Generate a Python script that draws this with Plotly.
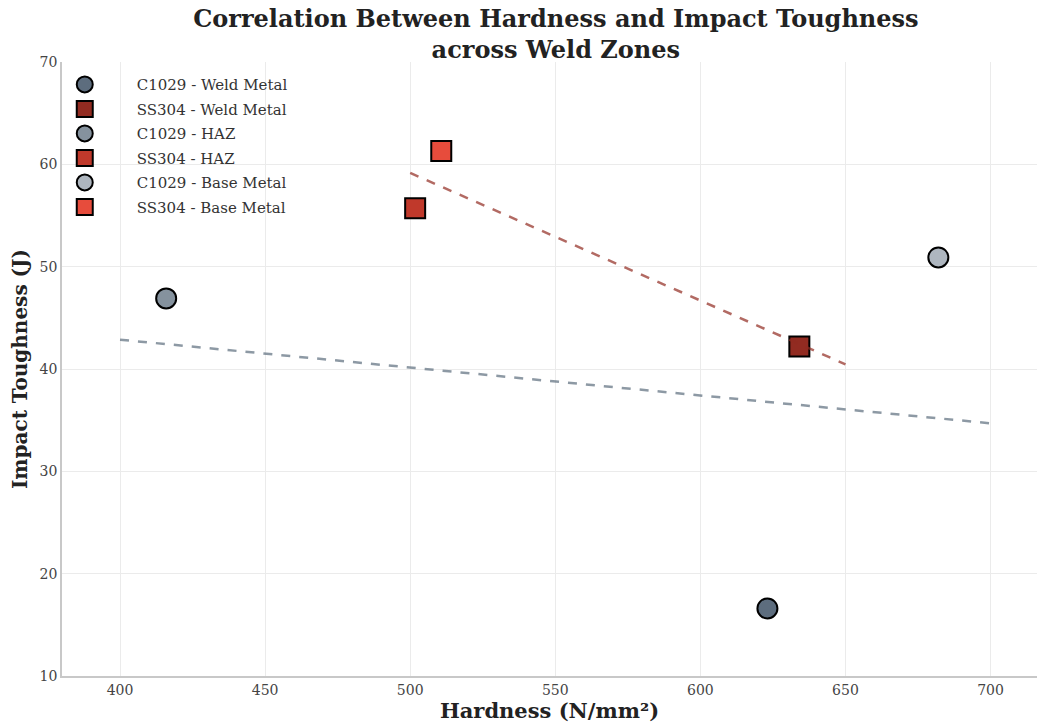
import numpy as np
import plotly.graph_objects as go

# Mean hardness / impact toughness for each material and weld zone
zones = ["Weld Metal", "HAZ", "Base Metal"]
c1029_hardness = [623.1, 415.9, 682.0]
c1029_toughness = [16.6, 46.9, 50.9]
ss304_hardness = [634.1, 501.7, 510.7]
ss304_toughness = [42.2, 55.7, 61.3]

c1029_colors = ["#5d6d7e", "#85929e", "#aeb6bf"]
ss304_colors = ["#922b21", "#c0392b", "#e74c3c"]

# Extent of each fitted trend line
c1029_fit_span = [400, 700]
ss304_fit_span = [500, 650]

SERIF = "DejaVu Serif"

fig = go.Figure()

for i, zone in enumerate(zones):
    for name, hx, ty, colors, symbol in [
        ("C1029", c1029_hardness, c1029_toughness, c1029_colors, "circle"),
        ("SS304", ss304_hardness, ss304_toughness, ss304_colors, "square"),
    ]:
        label = f"{name} - {zone}"
        fig.add_trace(go.Scatter(
            x=[hx[i]], y=[ty[i]], mode="markers",
            name=label, legendgroup=label,
            marker=dict(symbol=symbol, size=20, color=colors[i],
                        line=dict(color="black", width=2)),
        ))

# Linear least-squares trend for each material
for hx, ty, span, color in [
    (c1029_hardness, c1029_toughness, c1029_fit_span, "rgba(93,109,126,0.7)"),
    (ss304_hardness, ss304_toughness, ss304_fit_span, "rgba(146,43,33,0.7)"),
]:
    slope, intercept = np.polyfit(hx, ty, 1)
    xs = np.array(span, dtype=float)
    fig.add_trace(go.Scatter(
        x=xs, y=slope * xs + intercept, mode="lines", showlegend=False,
        hoverinfo="skip",
        line=dict(color=color, width=2.5, dash="dash"),
    ))

fig.update_layout(
    width=1039, height=725,
    margin=dict(l=62, r=2, t=62, b=49),
    paper_bgcolor="white", plot_bgcolor="white",
    title=dict(
        text="<b>Correlation Between Hardness and Impact Toughness<br>across Weld Zones</b>",
        x=0.535, xanchor="center", y=0.9634, yanchor="middle",
        font=dict(family=SERIF, size=24, color="#222222"),
    ),
    font=dict(family=SERIF, color="#444444"),
    legend=dict(
        x=-0.03, y=0.99, xanchor="left", yanchor="top",
        bgcolor="rgba(255,255,255,0)", borderwidth=0,
        font=dict(family=SERIF, size=15, color="#333333"),
        itemsizing="trace", itemwidth=94, tracegroupgap=2,
    ),
    xaxis=dict(
        range=[380, 716], tickvals=[400, 450, 500, 550, 600, 650, 700],
        showgrid=True, gridcolor="#ebebeb", gridwidth=1,
        zeroline=False, showline=True, linecolor="#c8c8c8", linewidth=1.5,
        ticks="", tickfont=dict(family=SERIF, size=14, color="#444444"),
        title=dict(text="<b>Hardness (N/mm²)</b>", standoff=5,
                   font=dict(family=SERIF, size=21, color="#222222")),
    ),
    yaxis=dict(
        range=[10, 70], tickvals=[10, 20, 30, 40, 50, 60, 70],
        showgrid=True, gridcolor="#ebebeb", gridwidth=1,
        zeroline=False, showline=True, linecolor="#c8c8c8", linewidth=1.5,
        ticks="", tickfont=dict(family=SERIF, size=14, color="#444444"),
        title=dict(text="<b>Impact Toughness (J)</b>", standoff=7,
                   font=dict(family=SERIF, size=20, color="#222222")),
    ),
)

fig.write_html("out.html")
